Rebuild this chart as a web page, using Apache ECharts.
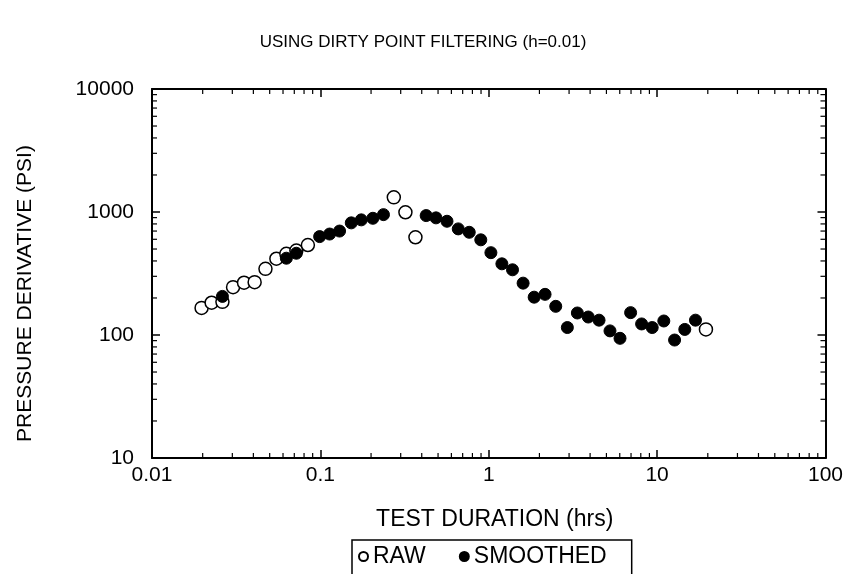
<!DOCTYPE html>
<html>
<head>
<meta charset="utf-8">
<script src="https://cdn.jsdelivr.net/npm/echarts@6/dist/echarts.min.js"></script>
<style>html,body{margin:0;padding:0;background:#fff}#c{width:846px;height:574px}</style>
</head>
<body>
<div id="c"></div>
<script>
// Test duration (hrs) and pressure derivative (psi)
var rawX = [0.0197, 0.0226, 0.0262, 0.0303, 0.0352, 0.0407, 0.0472, 0.0548, 0.0628, 0.072, 0.0843, 0.273, 0.32, 0.367, 19.5];
var rawY = [166, 183, 186, 245, 266, 269, 345, 417, 457, 486, 539, 1316, 995, 623, 111];

var smoothX = [0.0262, 0.0628, 0.072, 0.099, 0.1135, 0.130, 0.1526, 0.175, 0.205, 0.237,
               0.425, 0.486, 0.565, 0.659, 0.766, 0.897, 1.03, 1.197, 1.384, 1.60,
               1.861, 2.16, 2.50, 2.93, 3.36, 3.90, 4.52, 5.25, 6.02, 6.96,
               8.09, 9.35, 10.96, 12.7, 14.6, 16.9];
var smoothY = [206, 421, 462, 631, 662, 700, 816, 863, 889, 952,
               935, 896, 841, 729, 684, 594, 467, 379, 339, 264,
               203, 214, 171, 115, 151, 140, 132, 108, 94, 152,
               123, 115, 130, 91, 111, 132];

var xTicks = [0.01, 0.1, 1, 10, 100];
var yTicks = [10, 100, 1000, 10000];

var titleText = 'USING DIRTY POINT FILTERING (h=0.01)';
var xName = 'TEST DURATION (hrs)';
var yName = 'PRESSURE DERIVATIVE (PSI)';

function pairs(xs, ys) { return xs.map(function (x, i) { return [x, ys[i]]; }); }

var FONT = 'Liberation Sans, Arial, sans-serif';
var chart = echarts.init(document.getElementById('c'), null, {renderer: 'canvas'});

var axisCommon = {
  type: 'log', logBase: 10,
  axisLine: {show: true, lineStyle: {color: '#000', width: 2}},
  axisTick: {show: true, inside: true, length: 8, lineStyle: {color: '#000', width: 1.5}},
  splitLine: {show: false},
  minorTick: {show: false},
  minorSplitLine: {show: false}
};

var option = {
  backgroundColor: '#fff',
  animation: false,
  title: {
    text: titleText, left: 'center', top: 29,
    textStyle: {fontFamily: FONT, fontSize: 17, fontWeight: 'normal', color: '#000'}
  },
  legend: {
    left: 352, top: 540,
    orient: 'horizontal',
    data: ['RAW', 'SMOOTHED'],
    itemWidth: 9, itemHeight: 9, itemGap: 33,
    padding: [5, 25, 30, 6],
    borderColor: '#000', borderWidth: 1.5,
    textStyle: {fontFamily: FONT, fontSize: 23, color: '#000'}
  },
  grid: {left: 152, right: 19, top: 89, bottom: 116, containLabel: false},
  xAxis: [
    Object.assign({}, axisCommon, {
      min: xTicks[0], max: xTicks[xTicks.length - 1], position: 'bottom',
      name: xName, nameLocation: 'middle', nameGap: 50,
      nameTextStyle: {fontFamily: FONT, fontSize: 23, color: '#000', padding: [0, 0, 0, 12]},
      axisLabel: {show: true, margin: 7, fontFamily: FONT, fontSize: 21, color: '#000',
        formatter: function (v) { return String(v); }}
    }),
    Object.assign({}, axisCommon, {
      min: xTicks[0], max: xTicks[xTicks.length - 1], position: 'top',
      axisLabel: {show: false}
    })
  ],
  yAxis: [
    Object.assign({}, axisCommon, {
      min: yTicks[0], max: yTicks[yTicks.length - 1], position: 'left',
      name: yName, nameLocation: 'middle', nameGap: 116, nameRotate: 90,
      nameTextStyle: {fontFamily: FONT, fontSize: 21, color: '#000', padding: [0, 40, 0, 0]},
      axisLabel: {show: true, margin: 18, fontFamily: FONT, fontSize: 21, color: '#000',
        formatter: function (v) { return String(v); }}
    }),
    Object.assign({}, axisCommon, {
      min: yTicks[0], max: yTicks[yTicks.length - 1], position: 'right',
      axisLabel: {show: false}
    })
  ],
  series: [
    {
      name: 'RAW', type: 'scatter', xAxisIndex: 0, yAxisIndex: 0,
      data: pairs(rawX, rawY), symbol: 'circle', symbolSize: 13,
      itemStyle: {color: '#fff', borderColor: '#000', borderWidth: 1.5, opacity: 1},
      z: 2
    },
    {
      name: 'SMOOTHED', type: 'scatter', xAxisIndex: 0, yAxisIndex: 0,
      data: pairs(smoothX, smoothY), symbol: 'circle', symbolSize: 12,
      itemStyle: {color: '#000', borderColor: '#000', borderWidth: 1, opacity: 1},
      z: 3
    }
  ]
};
chart.setOption(option);

// Minor log ticks (2..9 within each decade), positioned via the library's scales
function minorTicks() {
  var els = [];
  var ls = {stroke: '#000', lineWidth: 1.2};
  var yb = chart.convertToPixel({yAxisIndex: 0}, yTicks[0]);
  var yt = chart.convertToPixel({yAxisIndex: 0}, yTicks[yTicks.length - 1]);
  var xl = chart.convertToPixel({xAxisIndex: 0}, xTicks[0]);
  var xr = chart.convertToPixel({xAxisIndex: 0}, xTicks[xTicks.length - 1]);
  var len = 5;
  for (var i = 0; i < xTicks.length - 1; i++) {
    for (var m = 2; m <= 9; m++) {
      var px = chart.convertToPixel({xAxisIndex: 0}, xTicks[i] * m);
      els.push({type: 'line', shape: {x1: px, y1: yb, x2: px, y2: yb - len}, style: ls, silent: true});
      els.push({type: 'line', shape: {x1: px, y1: yt, x2: px, y2: yt + len}, style: ls, silent: true});
    }
  }
  for (var j = 0; j < yTicks.length - 1; j++) {
    for (var n = 2; n <= 9; n++) {
      var py = chart.convertToPixel({yAxisIndex: 0}, yTicks[j] * n);
      els.push({type: 'line', shape: {x1: xl, y1: py, x2: xl + len, y2: py}, style: ls, silent: true});
      els.push({type: 'line', shape: {x1: xr, y1: py, x2: xr - len, y2: py}, style: ls, silent: true});
    }
  }
  chart.setOption({graphic: {elements: els}});
}
minorTicks();
</script>
</body>
</html>
